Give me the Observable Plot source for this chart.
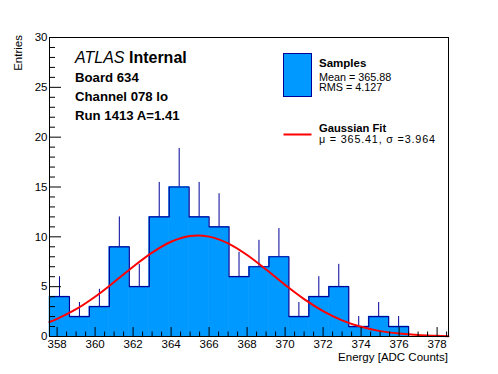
<!DOCTYPE html>
<html><head><meta charset="utf-8">
<script src="https://cdn.jsdelivr.net/npm/d3@7"></script>
<script src="https://cdn.jsdelivr.net/npm/@observablehq/plot@0.6"></script>
<style>html,body{margin:0;padding:0;background:#fff;} svg{display:block}</style>
</head><body><div id="chart"></div>
<script>
// ---- data ----
const binLow = 357.6;
const binHigh = 378.6;
const counts = [4, 2, 3, 9, 5, 12, 15, 12, 11, 6, 7, 8, 2, 4, 5, 1, 2, 1, 0, 0];
const errors = [2, 1.41, 1.73, 3, 2.24, 3.46, 3.87, 3.46, 3.32, 2.45, 2.65, 2.83, 1.41, 2, 2.24, 1, 1.41, 1, 0, 0];
const fitX = [357.6, 358, 359, 360, 361, 362, 363, 364, 365, 366, 367, 368, 369, 370, 371, 372, 373, 374, 375, 376, 377, 378, 378.6];
const fitY = [1.45, 1.77, 2.74, 3.99, 5.46, 7.00, 8.42, 9.51, 10.08, 10.02, 9.35, 8.18, 6.72, 5.18, 3.75, 2.55, 1.62, 0.97, 0.54, 0.29, 0.14, 0.07, 0.03];
const xTicks = [358, 360, 362, 364, 366, 368, 370, 372, 374, 376, 378];
const yTicks = [0, 5, 10, 15, 20, 25, 30];
const titleLines = ["Board 634", "Channel 078 lo", "Run 1413 A=1.41"];
const legendSamples = ["Samples", "Mean = 365.88", "RMS = 4.127"];
const legendFit = ["Gaussian Fit", "\u03bc = 365.41, \u03c3 =3.964"];

// ---- derived tables ----
const nb = counts.length;
const bw = (binHigh - binLow) / nb;
const bins = counts.map((c, i) => ({x1: binLow + i * bw, x2: binLow + (i + 1) * bw, y: c, err: errors[i]}));
const outline = bins.map(b => ({x: b.x1, y: b.y})).concat([{x: binHigh, y: counts[nb - 1]}]);
const fit = fitX.map((x, i) => ({x, y: fitY[i]}));
const xMinor = d3.range(358, 378.6, 0.5).filter(v => !xTicks.includes(v));
const yMinor = d3.range(0, 31, 1).filter(v => !yTicks.includes(v));

const W = 498, H = 374, mL = 49, mR = 50, mT = 37, mB = 38;
const pw = W - mL - mR, ph = H - mT - mB;
const navy = "#000099", blue = "#0099ff";

const chart = Plot.plot({
  width: W, height: H,
  marginLeft: mL, marginRight: mR, marginTop: mT, marginBottom: mB,
  x: {domain: [binLow, binHigh]},
  y: {domain: [0, 30]},
  style: {fontFamily: "'Liberation Sans', Arial, sans-serif", fontSize: "11.5px", color: "black", background: "white"},
  marks: [
    Plot.rectY(bins, {x1: "x1", x2: "x2", y: "y", fill: blue, stroke: blue, strokeWidth: 0.6, inset: 0}),
    Plot.ruleX(bins.filter(d => d.err > 0), {x: d => (d.x1 + d.x2) / 2, y1: "y", y2: d => d.y + d.err, stroke: navy, strokeWidth: 1}),
    Plot.line(outline, {x: "x", y: "y", curve: "step-after", stroke: navy, strokeWidth: 1.2}),
    Plot.line(fit, {x: "x", y: "y", curve: "catmull-rom", stroke: "#ff0000", strokeWidth: 2}),
    Plot.tickY(yMinor, {y: d => d, insetRight: pw - 6, stroke: "black"}),
    Plot.tickY(yTicks, {y: d => d, insetRight: pw - 12, stroke: "black"}),
    Plot.tickX(xMinor, {x: d => d, insetTop: ph - 4.5, stroke: "black"}),
    Plot.tickX(xTicks, {x: d => d, insetTop: ph - 9, stroke: "black"}),
    Plot.frame({stroke: "black", strokeWidth: 1}),
    Plot.axisX(xTicks, {tickSize: 0, tickPadding: 3, label: null}),
    Plot.axisY(yTicks, {tickSize: 0, tickPadding: 2, label: null})
  ]
});
document.getElementById("chart").appendChild(chart);

// ---- annotations ----
const svg = d3.select(chart);
const ff = "'Liberation Sans', Arial, sans-serif";
const g = svg.append("g").attr("font-family", ff).attr("fill", "black").attr("text-anchor", "start");

g.append("text").attr("x", W - mR).attr("y", 361).attr("text-anchor", "end")
  .attr("font-size", 11.5).text("Energy [ADC Counts]");
g.append("text").attr("transform", `translate(22,${mT - 2}) rotate(-90)`).attr("text-anchor", "end")
  .attr("font-size", 11.5).text("Entries");

const t1 = g.append("text").attr("x", 75).attr("y", 63).attr("font-size", 16);
t1.append("tspan").attr("font-style", "italic").text("ATLAS");
t1.append("tspan").attr("font-weight", "bold").text(" Internal");
titleLines.forEach((s, i) => {
  g.append("text").attr("x", 75).attr("y", 82 + i * 19.2).attr("font-size", 13.2)
    .attr("font-weight", "bold").text(s);
});

g.append("rect").attr("x", 283.5).attr("y", 53.5).attr("width", 28).attr("height", 43)
  .attr("fill", blue).attr("stroke", navy).attr("stroke-width", 1);
g.append("text").attr("x", 319).attr("y", 66.5).attr("font-size", 11.5).attr("font-weight", "bold").text(legendSamples[0]);
g.append("text").attr("x", 319).attr("y", 80.5).attr("font-size", 10.8).text(legendSamples[1]);
g.append("text").attr("x", 319).attr("y", 91).attr("font-size", 10.8).text(legendSamples[2]);

g.append("line").attr("x1", 283.5).attr("x2", 311.5).attr("y1", 134.5).attr("y2", 134.5)
  .attr("stroke", "#ff0000").attr("stroke-width", 2);
g.append("text").attr("x", 319).attr("y", 131.5).attr("font-size", 11.2).attr("font-weight", "bold").text(legendFit[0]);
g.append("text").attr("x", 319).attr("y", 143).attr("font-size", 10.8)
  .attr("textLength", 116).attr("lengthAdjust", "spacing").text(legendFit[1]);
</script>
</body></html>
